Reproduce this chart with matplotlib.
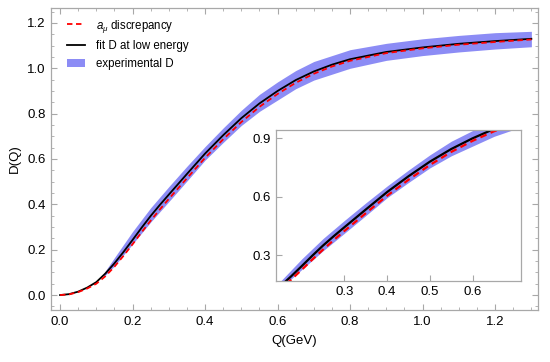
import numpy as np
import matplotlib.pyplot as plt
from matplotlib.lines import Line2D
from matplotlib.patches import Patch
from matplotlib.ticker import MultipleLocator

plt.rcParams['font.family'] = ['Liberation Sans', 'DejaVu Sans']
plt.rcParams['mathtext.fontset'] = 'custom'
plt.rcParams['mathtext.it'] = 'Liberation Sans:italic'

# values
q = [0.0, 0.025, 0.05, 0.075, 0.1, 0.125, 0.15, 0.175, 0.2, 0.225, 0.25,
     0.275, 0.3, 0.35, 0.4, 0.45, 0.5, 0.55, 0.6, 0.65, 0.7, 0.75, 0.8,
     0.9, 1.0, 1.1, 1.2, 1.3]
d_fit = [0.0, 0.004, 0.015, 0.033, 0.057, 0.095, 0.14, 0.19, 0.243, 0.297,
         0.349, 0.397, 0.443, 0.534, 0.624, 0.705, 0.78, 0.845, 0.9, 0.948,
         0.986, 1.016, 1.04, 1.072, 1.092, 1.108, 1.12, 1.13]
d_amu = [0.0, 0.003, 0.013, 0.029, 0.05, 0.083, 0.125, 0.173, 0.224, 0.277,
         0.328, 0.377, 0.424, 0.515, 0.605, 0.687, 0.763, 0.83, 0.887, 0.936,
         0.976, 1.008, 1.033, 1.067, 1.088, 1.104, 1.116, 1.127]

q_band = [0.12, 0.15, 0.2, 0.25, 0.3, 0.35, 0.4, 0.45, 0.5, 0.55, 0.6, 0.65,
          0.7, 0.8, 0.9, 1.0, 1.1, 1.2, 1.3]
band_hi = [0.095, 0.165, 0.28, 0.385, 0.478, 0.568, 0.655, 0.737, 0.815, 0.885,
           0.94, 0.99, 1.03, 1.082, 1.11, 1.13, 1.145, 1.157, 1.163]
band_lo = [0.08, 0.128, 0.225, 0.322, 0.412, 0.503, 0.595, 0.673, 0.748, 0.81,
           0.86, 0.91, 0.948, 1.0, 1.035, 1.056, 1.072, 1.085, 1.095]

band_col = '#8c8cf5'
frame_col = '#a8a8a8'


def curves(ax, lw):
    ax.fill_between(q_band, band_lo, band_hi, color=band_col, lw=0)
    ax.plot(q, d_fit, '-', color='black', lw=lw)
    ax.plot(q, d_amu, '--', color='red', lw=lw, dashes=(3, 2))


def frame(ax):
    for s in ax.spines.values():
        s.set_color(frame_col)
        s.set_linewidth(0.9)
    ax.tick_params(which='both', direction='in', color=frame_col,
                   labelsize=9.5, pad=4)
    ax.tick_params(which='major', length=4)
    ax.tick_params(which='minor', length=2)


fig = plt.figure(figsize=(5.5, 3.62), dpi=100)
ax = fig.add_axes([0.0927, 0.1436, 0.8853, 0.8344])
curves(ax, 1.3)
frame(ax)
ax.set_xlim(-0.025, 1.318)
ax.set_ylim(-0.066, 1.266)
ax.xaxis.set_major_locator(MultipleLocator(0.2))
ax.xaxis.set_minor_locator(MultipleLocator(0.05))
ax.yaxis.set_major_locator(MultipleLocator(0.2))
ax.yaxis.set_minor_locator(MultipleLocator(0.05))
ax.xaxis.set_major_formatter(lambda v, p: f'{v:.1f}')
ax.yaxis.set_major_formatter(lambda v, p: f'{v:.1f}')
ax.tick_params(which='both', top=True, right=True)
ax.set_xlabel('Q(GeV)', fontsize=9.5, labelpad=5)
ax.set_ylabel('D(Q)', fontsize=9.5, labelpad=4)

handles = [Line2D([], [], color='red', ls='--', lw=1.3, dashes=(3, 2)),
           Line2D([], [], color='black', lw=1.3),
           Patch(facecolor=band_col, edgecolor='none')]
labels = [r'$a_\mu$ discrepancy', 'fit D at low energy', 'experimental D']
ax.legend(handles, labels, loc='upper left', bbox_to_anchor=(0.033, 0.968),
          frameon=False, fontsize=8.3, handlelength=1.6, handletextpad=0.9,
          labelspacing=0.5, borderpad=0, borderaxespad=0)

ins = fig.add_axes([0.502, 0.2246, 0.445, 0.4164])
curves(ins, 1.6)
frame(ins)
ins.set_xlim(0.14, 0.713)
ins.set_ylim(0.168, 0.943)
ins.set_xticks([0.3, 0.4, 0.5, 0.6])
ins.set_yticks([0.3, 0.6, 0.9])
ins.xaxis.set_major_formatter(lambda v, p: f'{v:.1f}')
ins.yaxis.set_major_formatter(lambda v, p: f'{v:.1f}')

fig.savefig('out.png', dpi=100)
